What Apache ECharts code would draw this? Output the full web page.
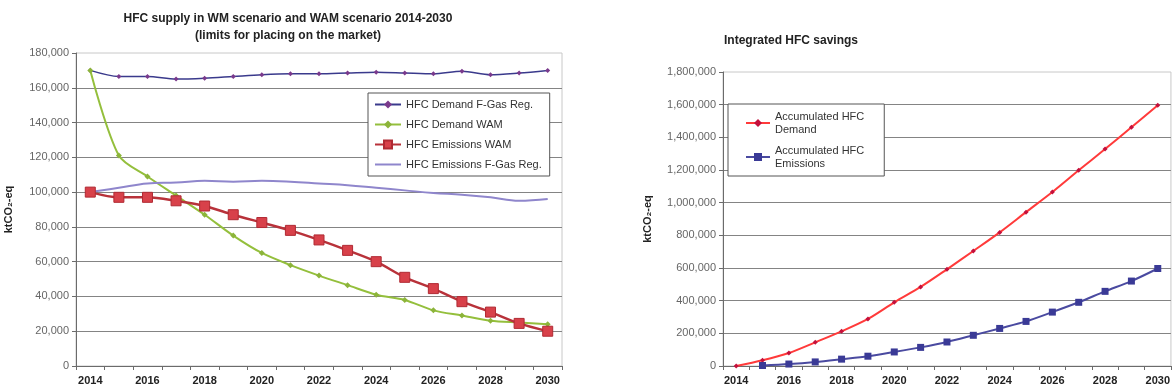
<!DOCTYPE html>
<html>
<head>
<meta charset="utf-8">
<title>HFC supply and integrated HFC savings</title>
<script src="https://cdn.jsdelivr.net/npm/echarts@6/dist/echarts.min.js"></script>
<style>
  html, body { margin: 0; padding: 0; background: #fff; }
  #chart { width: 1173px; height: 392px; }
</style>
</head>
<body>
<div id="chart"></div>
<script>
// Years on both category axes
const years = ['2014','2015','2016','2017','2018','2019','2020','2021','2022',
               '2023','2024','2025','2026','2027','2028','2029','2030'];

// Left panel: HFC supply, ktCO2-eq
const demandFGas    = [170000,166500,166500,165000,165500,166500,167500,168000,168000,
                       168500,169000,168500,168000,169500,167500,168500,170000];
const demandWAM     = [170000,121000,109000,98000,87000,75000,65000,58000,52000,
                       46500,41000,38000,32000,29000,26000,25000,24000];
const emissionsWAM  = [100000,97000,97000,95000,92000,87000,82500,78000,72500,
                       66500,60000,51000,44500,37000,31000,24500,20000];
const emissionsFGas = [100000,102500,105000,105500,106500,106000,106500,106000,105000,
                       104000,102500,101000,99500,98500,97000,95000,96000];

// Right panel: integrated savings, ktCO2-eq
const accDemand    = [0,35000,80000,145000,212000,288000,390000,484000,592000,
                      704000,818000,942000,1065000,1198000,1328000,1462000,1597000];
const accEmissions = [null,3000,12000,25000,42000,60000,86000,114000,147000,
                      188000,230000,273000,330000,390000,457000,520000,597000];

// Axis ranges
const leftMax = 180000, leftStep = 20000;
const rightMax = 1800000, rightStep = 200000;

const FONT = '"Liberation Sans", Arial, sans-serif';
const fmt = v => v.toLocaleString('en-US');

function xAxis(gridIndex) {
  return {
    type: 'category', gridIndex, data: years, boundaryGap: true,
    axisLine: { show: true, lineStyle: { color: '#6b6b6b', width: 1 } },
    axisTick: { show: true, interval: 0, length: 4, lineStyle: { color: '#6b6b6b' } },
    axisLabel: { interval: 1, color: '#222', fontFamily: FONT, fontSize: 11,
                 fontWeight: 'bold', margin: 9 },
    splitLine: { show: false }
  };
}

function yAxis(gridIndex, max, step, gap) {
  return {
    type: 'value', gridIndex, min: 0, max, interval: step,
    name: 'ktCO₂-eq', nameLocation: 'middle', nameGap: gap, nameRotate: 90,
    nameTextStyle: { fontFamily: FONT, fontSize: 11, fontWeight: 'bold', color: '#222' },
    axisLine: { show: true, lineStyle: { color: '#6b6b6b', width: 1 } },
    axisTick: { show: true, length: 4, lineStyle: { color: '#6b6b6b' } },
    axisLabel: { color: '#666', fontFamily: FONT, fontSize: 11, margin: 7, formatter: fmt },
    splitLine: { show: true, showMaxLine: false, lineStyle: { color: '#848484', width: 1 } }
  };
}

const lavender = '#8f86cc';

const option = {
  animation: false,
  backgroundColor: '#ffffff',
  title: [
    {
      text: 'HFC supply in WM scenario and WAM scenario 2014-2030\n(limits for placing on the market)',
      left: 283, top: 5, textAlign: 'center',
      textStyle: { fontFamily: FONT, fontSize: 12, fontWeight: 'bold', color: '#222', lineHeight: 17 }
    },
    {
      text: 'Integrated HFC savings',
      left: 719, top: 30,
      textStyle: { fontFamily: FONT, fontSize: 12, fontWeight: 'bold', color: '#222' }
    }
  ],
  grid: [
    { left: 76, top: 53, width: 486, height: 313, show: true,
      borderColor: '#c8c8c8', borderWidth: 1, backgroundColor: 'transparent' },
    { left: 723, top: 72, width: 448, height: 294, show: true,
      borderColor: '#c8c8c8', borderWidth: 1, backgroundColor: 'transparent' }
  ],
  xAxis: [xAxis(0), xAxis(1)],
  yAxis: [yAxis(0, leftMax, leftStep, 62), yAxis(1, rightMax, rightStep, 70)],
  legend: [
    {
      orient: 'vertical', left: 368, top: 93,
      padding: [6, 8, 6, 6], itemGap: 9, itemWidth: 26, itemHeight: 10,
      backgroundColor: '#fff', borderColor: '#555', borderWidth: 1,
      textStyle: { fontFamily: FONT, fontSize: 11, color: '#333' },
      data: [
        'HFC Demand F-Gas Reg.',
        'HFC Demand WAM',
        'HFC Emissions WAM',
        { name: 'HFC Emissions F-Gas Reg.', icon: 'path://M0,0 L26,0 L26,2 L0,2 Z',
          itemStyle: { color: lavender } }
      ]
    },
    {
      orient: 'vertical', left: 728, top: 104,
      padding: [6, 20, 6, 17], itemGap: 8, itemWidth: 24, itemHeight: 10,
      backgroundColor: '#fff', borderColor: '#555', borderWidth: 1,
      textStyle: { fontFamily: FONT, fontSize: 11, color: '#333', lineHeight: 13 },
      formatter: n => n.replace('HFC ', 'HFC\n'),
      data: ['Accumulated HFC Demand', 'Accumulated HFC Emissions']
    }
  ],
  series: [
    {
      name: 'HFC Demand F-Gas Reg.', type: 'line', xAxisIndex: 0, yAxisIndex: 0,
      data: demandFGas, smooth: 0.3, symbol: 'diamond', symbolSize: 5,
      lineStyle: { color: '#3a3a8c', width: 1.5 },
      itemStyle: { color: '#7a3a8c' }
    },
    {
      name: 'HFC Demand WAM', type: 'line', xAxisIndex: 0, yAxisIndex: 0,
      data: demandWAM, smooth: 0.3, symbol: 'diamond', symbolSize: 6,
      lineStyle: { color: '#94bf3c', width: 2 },
      itemStyle: { color: '#8cb43a' }
    },
    {
      name: 'HFC Emissions WAM', type: 'line', xAxisIndex: 0, yAxisIndex: 0,
      data: emissionsWAM, smooth: 0.3, symbol: 'rect', symbolSize: 10,
      lineStyle: { color: '#b8323a', width: 2.5 },
      itemStyle: { color: '#d8414a', borderColor: '#b02a33', borderWidth: 1 }
    },
    {
      name: 'HFC Emissions F-Gas Reg.', type: 'line', xAxisIndex: 0, yAxisIndex: 0,
      data: emissionsFGas, smooth: 0.4, showSymbol: false, symbol: 'none',
      lineStyle: { color: lavender, width: 2 },
      itemStyle: { color: lavender }
    },
    {
      name: 'Accumulated HFC Demand', type: 'line', xAxisIndex: 1, yAxisIndex: 1,
      data: accDemand, smooth: 0.3, symbol: 'diamond', symbolSize: 5,
      lineStyle: { color: '#ff3a3a', width: 2 },
      itemStyle: { color: '#c4103c' }
    },
    {
      name: 'Accumulated HFC Emissions', type: 'line', xAxisIndex: 1, yAxisIndex: 1,
      data: accEmissions, smooth: 0.3, symbol: 'rect', symbolSize: 7,
      lineStyle: { color: '#4a4aa0', width: 2 },
      itemStyle: { color: '#3a3a96' }
    }
  ]
};

const chart = echarts.init(document.getElementById('chart'), null, { renderer: 'canvas' });
chart.setOption(option);
</script>
</body>
</html>
